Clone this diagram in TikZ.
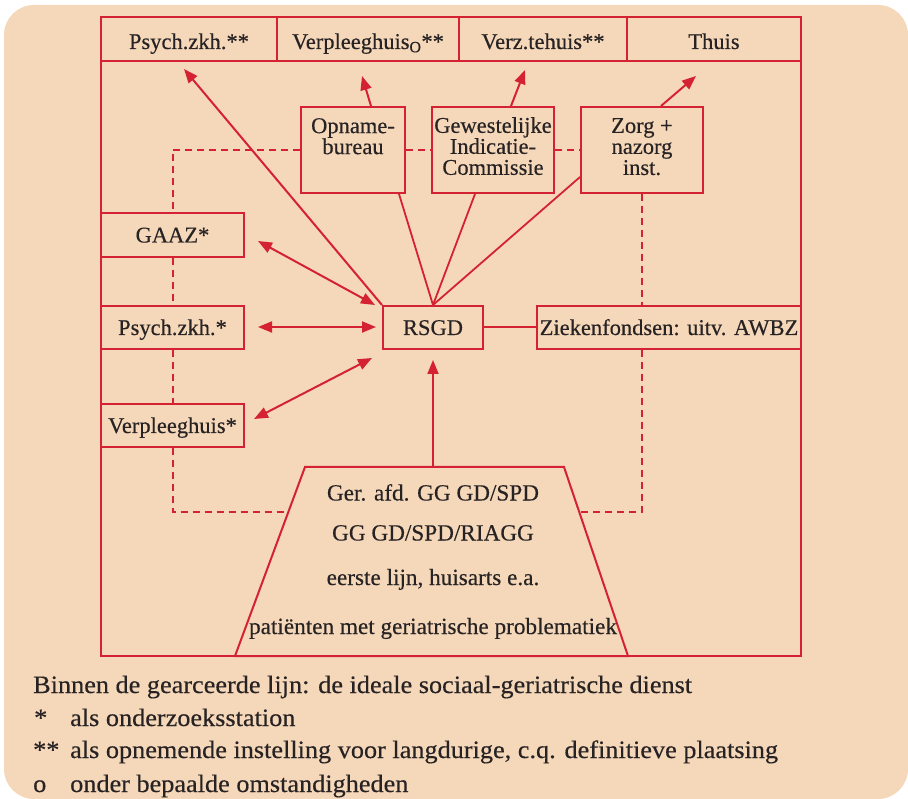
\documentclass[tikz,border=0pt]{standalone}
\usepackage{fontspec}
\setmainfont{Liberation Serif}[FakeBold=0.35]
\newfontfamily\legfont{Liberation Serif}[FakeStretch=1.05,FakeBold=0.35]
\usetikzlibrary{arrows.meta,calc}
\definecolor{bg}{HTML}{F5D7B9}
\definecolor{rd}{HTML}{D42233}
\definecolor{tx}{HTML}{272223}
\begin{document}
\begin{tikzpicture}[x=1pt,y=-1pt,
  box/.style={draw=rd, line width=2pt, fill=bg, text=tx, inner sep=0pt,
    font=\fontsize{22.5}{21}\selectfont, align=center,
    text height=17.5pt, text depth=2.5pt},
  topbox/.style={box, minimum height=44pt, text height=22pt, text depth=2pt},
  midbox/.style={box, minimum height=43pt},
  bigbox/.style={box, minimum height=86pt},
  boxtxt/.style={text=tx, inner sep=0pt, align=center,
    font=\fontsize{22.5}{21}\selectfont},
  trtxt/.style={text=tx, inner sep=0pt, anchor=base,
    font=\fontsize{23.2}{26}\selectfont},
  legtxt/.style={text=tx, inner sep=0pt, anchor=base west,
    font=\legfont\fontsize{25}{28}\selectfont},
  tip/.tip={Triangle[length=14pt,width=11pt]},
  arr/.style={draw=rd, line width=2pt, -tip},
  darr/.style={draw=rd, line width=2pt, tip-tip},
  ln/.style={draw=rd, line width=1.8pt},
  dsh/.style={draw=rd, line width=2pt, dash pattern=on 7pt off 5pt}]
\useasboundingbox (0,0) rectangle (908,799);
\fill[bg, rounded corners=30pt] (4,5) rectangle (908,799);

% outer frame
\draw[rd, line width=2pt] (101,17) rectangle (801,656);

% named free points
\coordinate (tipP) at (184,69);
\coordinate (tipV) at (362,76);
\coordinate (tipZ) at (525,70);
\coordinate (tipT) at (696,76);
\coordinate (gA) at (258,241);
\coordinate (rA) at (375,305);
\coordinate (gB) at (258,327);
\coordinate (rB) at (376,327);
\coordinate (gC) at (254,419);
\coordinate (rC) at (372,358);
\coordinate (rD) at (433,360);
\coordinate (trTL) at (305,467);
\coordinate (trTR) at (564,467);
\coordinate (trBR) at (628,656);
\coordinate (trBL) at (235,656);
\coordinate (trTop) at (433,467);
\coordinate (trL) at (288,512);
\coordinate (trR) at (579,512);

% top row
\node[topbox, minimum width=176pt] (t1) at (189,39) {Psych.zkh.**};
\node[topbox, minimum width=182pt] (t2) at (368,39) {Verpleeghuis\textsubscript{O}**};
\node[topbox, minimum width=168pt] (t3) at (543,39) {Verz.tehuis**};
\node[topbox, minimum width=174pt] (t4) at (714,39) {Thuis};

% boxes with three text lines
\node[bigbox, minimum width=104pt] (opn) at (353,150) {};
\node[bigbox, minimum width=122pt] (gew) at (493,150) {};
\node[bigbox, minimum width=122pt] (zorg) at (642,150) {};

% left column
\node[box, minimum width=143pt, minimum height=44pt] (gaaz) at (172.5,235) {GAAZ*};
\node[midbox, minimum width=143pt] (psy) at (172.5,327.5) {Psych.zkh.*};
\node[midbox, minimum width=143pt] (vph) at (172.5,425.5) {Verpleeghuis*};

% middle / right
\node[midbox, minimum width=100pt] (rsgd) at (433,327.5) {RSGD};
\node[midbox, minimum width=264pt] (zf) at (669,327.5) {Ziekenfondsen: uitv. AWBZ};

% dashed links
\draw[dsh] (opn.west) -| (gaaz.north);
\draw[dsh] (opn.east) -- (gew.west);
\draw[dsh] (gew.east) -- (zorg.west);
\draw[dsh] (gaaz.south) -- (psy.north);
\draw[dsh] (psy.south) -- (vph.north);
\draw[dsh] (vph.south) |- (trL);
\draw[dsh] (zorg.south) -- (zorg.south |- zf.north);
\draw[dsh] (zorg.south |- zf.south) |- (trR);

% solid links
\draw[ln] (rsgd.north) -- ($(opn.south)+(46,0)$);
\draw[ln] (rsgd.north) -- ($(gew.south)+(-18,0)$);
\draw[ln] (rsgd.north) -- ($(zorg.west)+(0,27)$);
\draw[ln, line width=2pt] (rsgd.east) -- (zf.west);

% arrows
\draw[arr] (rsgd.north west) -- (tipP);
\draw[arr] ($(opn.north)+(18,0)$) -- (tipV);
\draw[arr] ($(gew.north)+(18,0)$) -- (tipZ);
\draw[arr] ($(zorg.north)+(19,0)$) -- (tipT);
\draw[darr] (gA) -- (rA);
\draw[darr] (gB) -- (rB);
\draw[darr] (gC) -- (rC);
\draw[arr] (trTop) -- (rD);

% trapezoid
\draw[rd, line width=2pt] (trTL) -- (trTR) -- (trBR) -- (trBL) -- cycle;
\node[trtxt] (l1) at (433,500.5) {Ger. afd. GG GD/SPD};
\node[trtxt] (l2) at (433,540.5) {GG GD/SPD/RIAGG};
\node[trtxt] (l3) at (433,585) {eerste lijn, huisarts e.a.};
\node[trtxt] (l4) at (433,634) {patiënten met geriatrische problematiek};

% texts of the three-line boxes
\node[boxtxt, anchor=north] (opnt) at (353,118) {Opname-\\bureau};
\node[boxtxt, anchor=north] (gewt) at (493,117) {Gewestelijke\\Indicatie-\\Commissie};
\node[boxtxt, anchor=north] (zorgt) at (642,118) {Zorg +\\nazorg\\inst.};

% legend
\node[legtxt] (g1) at (33,693) {Binnen de gearceerde lijn: de ideale sociaal-geriatrische dienst};
\node[legtxt] (g2s) at (34,726) {*};
\node[legtxt] (g2) at (70,726) {als onderzoeksstation};
\node[legtxt] (g3s) at (33,758) {**};
\node[legtxt] (g3) at (70,758) {als opnemende instelling voor langdurige, c.q. definitieve plaatsing};
\node[legtxt] (g4s) at (33,792) {o};
\node[legtxt] (g4) at (70,792) {onder bepaalde omstandigheden};
\end{tikzpicture}
\end{document}
